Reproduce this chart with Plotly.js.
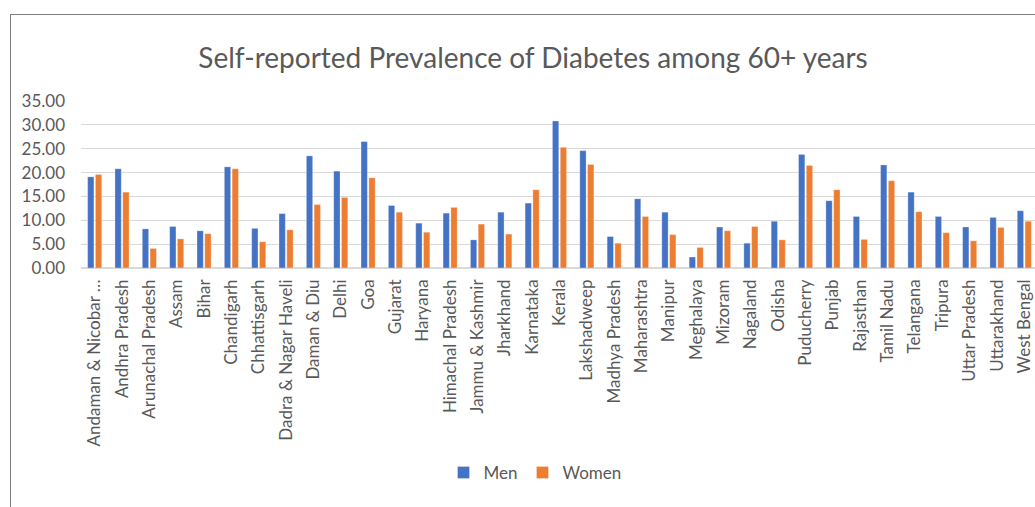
<!DOCTYPE html>
<html>
<head>
<meta charset="utf-8">
<script src="https://cdn.plot.ly/plotly-3.0.1.min.js"></script>
<style>
  html, body { margin: 0; padding: 0; overflow: hidden; background: #fff; }
  #chart { position: absolute; left: 0; top: 0; width: 1060px; height: 507px; }
  #frame { position: absolute; left: 10px; top: 14px; width: 1200px; height: 600px;
           border-left: 1px solid #7f7f7f; border-top: 1px solid #7f7f7f; pointer-events: none; }
</style>
</head>
<body>
<div id="chart"></div>
<div id="frame"></div>
<script>
// States / UTs in chart order
const states = [
  "Andaman & Nicobar Islands", "Andhra Pradesh", "Arunachal Pradesh", "Assam", "Bihar",
  "Chandigarh", "Chhattisgarh", "Dadra & Nagar Haveli", "Daman & Diu", "Delhi",
  "Goa", "Gujarat", "Haryana", "Himachal Pradesh", "Jammu & Kashmir",
  "Jharkhand", "Karnataka", "Kerala", "Lakshadweep", "Madhya Pradesh",
  "Maharashtra", "Manipur", "Meghalaya", "Mizoram", "Nagaland",
  "Odisha", "Puducherry", "Punjab", "Rajasthan", "Tamil Nadu",
  "Telangana", "Tripura", "Uttar Pradesh", "Uttarakhand", "West Bengal"
];

// Axis labels as printed (long name is cut short)
const stateLabels = [
  "Andaman & Nicobar …", "Andhra Pradesh", "Arunachal Pradesh", "Assam", "Bihar",
  "Chandigarh", "Chhattisgarh", "Dadra & Nagar Haveli", "Daman & Diu", "Delhi",
  "Goa", "Gujarat", "Haryana", "Himachal Pradesh", "Jammu & Kashmir",
  "Jharkhand", "Karnataka", "Kerala", "Lakshadweep", "Madhya Pradesh",
  "Maharashtra", "Manipur", "Meghalaya", "Mizoram", "Nagaland",
  "Odisha", "Puducherry", "Punjab", "Rajasthan", "Tamil Nadu",
  "Telangana", "Tripura", "Uttar Pradesh", "Uttarakhand", "West Bengal"
];

// Self-reported diabetes prevalence (%), adults aged 60+
const men = [
  19.1, 20.8, 8.2, 8.7, 7.8,
  21.2, 8.3, 11.4, 23.5, 20.3,
  26.5, 13.1, 9.4, 11.5, 5.9,
  11.7, 13.6, 30.8, 24.6, 6.6,
  14.5, 11.7, 2.3, 8.6, 5.2,
  9.8, 23.8, 14.1, 10.8, 21.6,
  15.9, 10.8, 8.6, 10.6, 12.0
];
const women = [
  19.6, 15.9, 4.1, 6.1, 7.2,
  20.8, 5.5, 8.0, 13.3, 14.8,
  18.9, 11.7, 7.5, 12.7, 9.2,
  7.1, 16.4, 25.3, 21.7, 5.2,
  10.8, 7.0, 4.3, 7.8, 8.7,
  5.9, 21.5, 16.4, 6.0, 18.3,
  11.8, 7.4, 5.7, 8.5, 9.8
];

const yTicks = [0, 5, 10, 15, 20, 25, 30, 35];

const grey = "#595959";
const fontFamily = "Lato, 'Open Sans', sans-serif";

const traces = [
  {
    type: "bar", name: "Men", x: states, y: men,
    marker: { color: "#4472C4", line: { color: "rgba(255,255,255,0.5)", width: 0.6 } },
    hoverinfo: "x+y+name"
  },
  {
    type: "bar", name: "Women", x: states, y: women,
    marker: { color: "#ED7D31", line: { color: "rgba(255,255,255,0.5)", width: 0.6 } },
    hoverinfo: "x+y+name"
  }
];

const layout = {
  width: 1060, height: 507,
  margin: { l: 81, r: 22, t: 101, b: 239, pad: 0 },
  paper_bgcolor: "#ffffff", plot_bgcolor: "#ffffff",
  font: { family: fontFamily, color: grey, size: 17 },
  title: {
    text: "Self-reported Prevalence of Diabetes among 60+ years",
    font: { family: fontFamily, size: 28, color: grey },
    xref: "container", x: 533 / 1060, xanchor: "center",
    yref: "container", y: 1 - 58 / 507, yanchor: "middle"
  },
  barmode: "group", bargap: 0.43, bargroupgap: 0.19,
  xaxis: {
    type: "category",
    tickmode: "array", tickvals: states, ticktext: stateLabels,
    tickangle: -90, tickfont: { size: 17, color: grey },
    showgrid: false, showline: false, ticks: "",
    ticklabelstandoff: 7,
    zeroline: false, fixedrange: true
  },
  yaxis: {
    range: [0, 35], tickmode: "array", tickvals: yTicks,
    tickformat: ".2f", tickfont: { size: 17, color: grey },
    showgrid: true, gridcolor: "#d9d9d9", gridwidth: 1,
    zeroline: true, zerolinecolor: "#d9d9d9", zerolinewidth: 2,
    showline: false, ticks: "", ticklabelstandoff: 15, fixedrange: true
  },
  legend: {
    orientation: "h",
    xref: "container", x: 535 / 1060, xanchor: "center",
    yref: "container", y: 1 - 473 / 507, yanchor: "middle",
    font: { size: 17, color: grey },
    itemwidth: 30, traceorder: "normal"
  },
  showlegend: true
};

Plotly.newPlot("chart", traces, layout, { displayModeBar: false, staticPlot: true });
</script>
</body>
</html>
